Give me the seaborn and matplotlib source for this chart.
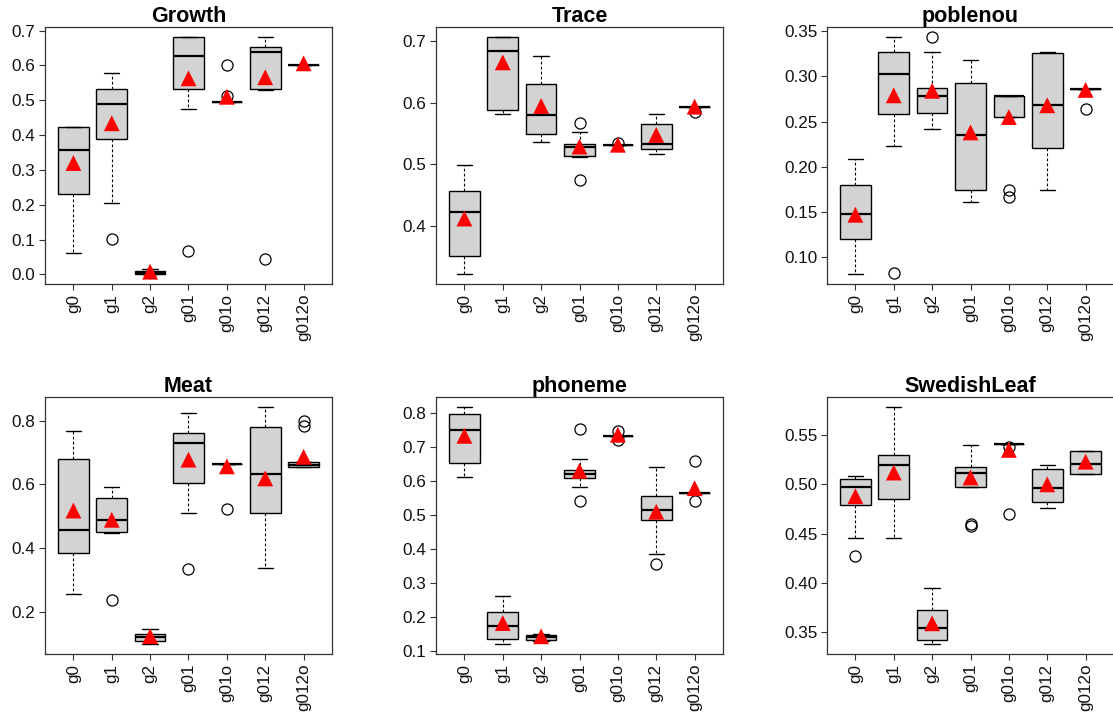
import numpy as np
import pandas as pd
import matplotlib
matplotlib.use("Agg")
import matplotlib.pyplot as plt
import seaborn as sns

groups = ["g0", "g1", "g2", "g01", "g01o", "g012", "g012o"]
titles = ["Growth", "Trace", "poblenou", "Meat", "phoneme", "SwedishLeaf"]

# box stats per group: [whisker low, q1, median, q3, whisker high]
growth_box = [[0.062, 0.231, 0.357, 0.424, 0.424], [0.204, 0.389, 0.489, 0.533, 0.579],
              [0.000, 0.000, 0.005, 0.011, 0.017], [0.476, 0.533, 0.626, 0.681, 0.683],
              [0.494, 0.494, 0.494, 0.494, 0.494], [0.530, 0.533, 0.640, 0.652, 0.683],
              [0.601, 0.601, 0.601, 0.601, 0.601]]
growth_mean = [0.320, 0.434, 0.008, 0.563, 0.510, 0.566, 0.606]
growth_out = [[], [0.103], [], [0.068], [0.601, 0.513], [0.044], []]

trace_box = [[0.321, 0.351, 0.423, 0.457, 0.499], [0.582, 0.588, 0.685, 0.707, 0.708],
             [0.537, 0.550, 0.580, 0.631, 0.677], [0.512, 0.514, 0.529, 0.534, 0.552],
             [0.531, 0.531, 0.531, 0.531, 0.531], [0.517, 0.525, 0.534, 0.565, 0.582],
             [0.593, 0.593, 0.593, 0.593, 0.593]]
trace_mean = [0.412, 0.666, 0.595, 0.529, 0.532, 0.548, 0.594]
trace_out = [[], [], [], [0.567, 0.475], [0.535], [], [0.586]]

poblenou_box = [[0.081, 0.120, 0.148, 0.180, 0.209], [0.223, 0.258, 0.303, 0.327, 0.344],
                [0.242, 0.260, 0.278, 0.287, 0.327], [0.161, 0.174, 0.235, 0.293, 0.3175],
                [0.2555, 0.2555, 0.278, 0.278, 0.278], [0.174, 0.221, 0.268, 0.326, 0.327],
                [0.286, 0.286, 0.286, 0.286, 0.286]]
poblenou_mean = [0.147, 0.279, 0.284, 0.238, 0.255, 0.268, 0.285]
poblenou_out = [[], [0.083], [0.344], [], [0.174, 0.167], [], [0.2636]]

meat_box = [[0.256, 0.386, 0.4575, 0.679, 0.769], [0.447, 0.451, 0.488, 0.558, 0.592],
            [0.097, 0.1086, 0.120, 0.131, 0.146], [0.509, 0.605, 0.729, 0.762, 0.825],
            [0.663, 0.663, 0.663, 0.663, 0.663], [0.336, 0.510, 0.634, 0.782, 0.845],
            [0.655, 0.655, 0.660, 0.670, 0.670]]
meat_mean = [0.518, 0.489, 0.123, 0.678, 0.657, 0.619, 0.687]
meat_out = [[], [0.236], [], [0.3345], [0.522], [], [0.799, 0.785]]

phoneme_box = [[0.6115, 0.652, 0.750, 0.797, 0.818], [0.119, 0.134, 0.172, 0.213, 0.262],
               [0.129, 0.131, 0.141, 0.146, 0.149], [0.583, 0.6076, 0.619, 0.631, 0.6625],
               [0.732, 0.732, 0.732, 0.732, 0.732], [0.385, 0.485, 0.513, 0.5555, 0.640],
               [0.564, 0.564, 0.564, 0.564, 0.564]]
phoneme_mean = [0.732, 0.182, 0.143, 0.629, 0.735, 0.509, 0.578]
phoneme_out = [[], [], [], [0.753, 0.540], [0.747, 0.720], [0.356], [0.659, 0.539]]

swedish_box = [[0.446, 0.479, 0.497, 0.505, 0.5086], [0.446, 0.4856, 0.5195, 0.530, 0.579],
               [0.3375, 0.3419, 0.3547, 0.373, 0.3947], [0.4975, 0.4975, 0.512, 0.518, 0.540],
               [0.541, 0.541, 0.541, 0.541, 0.541], [0.476, 0.482, 0.4958, 0.5158, 0.520],
               [0.511, 0.511, 0.5205, 0.5337, 0.5337]]
swedish_mean = [0.488, 0.512, 0.359, 0.507, 0.535, 0.500, 0.523]
swedish_out = [[0.4276], [], [], [0.4598, 0.458], [0.5375, 0.470], [], []]

ytick_sets = [
    [0.0, 0.1, 0.2, 0.3, 0.4, 0.5, 0.6, 0.7],
    [0.4, 0.5, 0.6, 0.7],
    [0.10, 0.15, 0.20, 0.25, 0.30, 0.35],
    [0.2, 0.4, 0.6, 0.8],
    [0.1, 0.2, 0.3, 0.4, 0.5, 0.6, 0.7, 0.8],
    [0.35, 0.40, 0.45, 0.50, 0.55],
]
ytick_fmt = ["{:.1f}", "{:.1f}", "{:.2f}", "{:.1f}", "{:.1f}", "{:.2f}"]

all_box = [growth_box, trace_box, poblenou_box, meat_box, phoneme_box, swedish_box]
all_mean = [growth_mean, trace_mean, poblenou_mean, meat_mean, phoneme_mean, swedish_mean]
all_out = [growth_out, trace_out, poblenou_out, meat_out, phoneme_out, swedish_out]

sns.set_theme(style="ticks")
plt.rcParams["font.family"] = ["Liberation Sans", "DejaVu Sans"]
plt.rcParams["text.color"] = "black"

fig = plt.figure(figsize=(11.13, 7.15), dpi=100)
W, H = 1113, 715
lefts = [45, 436, 827]
tops = [27, 397]
aw, ah = 287, 257


def draw_panel(ax, box, means, outs, title, ticks, fmt):
    stats = []
    for g, b, o in zip(groups, box, outs):
        stats.append(dict(label=g, whislo=b[0], q1=b[1], med=b[2], q3=b[3],
                          whishi=b[4], fliers=o))
    pos = np.arange(1, len(groups) + 1)
    ax.bxp(stats, positions=pos, widths=0.8, patch_artist=True, showfliers=True,
           boxprops=dict(facecolor="#D3D3D3", edgecolor="black", linewidth=1.0),
           medianprops=dict(color="black", linewidth=1.6, solid_capstyle="butt"),
           whiskerprops=dict(color="black", linewidth=0.8, linestyle=(0, (2.5, 2))),
           capprops=dict(color="black", linewidth=1.0),
           capwidths=0.4,
           flierprops=dict(marker="o", markerfacecolor="none", markeredgecolor="black",
                           markersize=8, markeredgewidth=0.9, linestyle="none"))
    df = pd.DataFrame({"x": pos, "mean": means})
    sns.scatterplot(data=df, x="x", y="mean", marker="^", color="red", s=130,
                    edgecolor="none", zorder=5, ax=ax, legend=False)

    vals = [v for b in box for v in b] + [v for o in outs for v in o]
    lo, hi = min(vals), max(vals)
    pad = (hi - lo) * 0.04
    ax.set_ylim(lo - pad, hi + pad)
    ax.set_xlim(0.26, 7.74)
    ax.set_xticks(pos)
    ax.set_xticklabels(groups, rotation=90)
    ax.set_yticks(ticks)
    ax.set_yticklabels([fmt.format(t) for t in ticks])
    ax.set_xlabel("")
    ax.set_ylabel("")
    ax.set_title(title, fontsize=15.5, fontweight="bold", pad=3, color="black")
    ax.tick_params(axis="both", labelsize=12.3, length=4, width=0.8, pad=3,
                   color="#333333", labelcolor="#111111")
    for s in ax.spines.values():
        s.set_visible(True)
        s.set_linewidth(0.9)
        s.set_color("#333333")


for i in range(6):
    r, c = divmod(i, 3)
    rect = [lefts[c] / W, 1 - (tops[r] + ah) / H, aw / W, ah / H]
    ax = fig.add_axes(rect)
    draw_panel(ax, all_box[i], all_mean[i], all_out[i], titles[i], ytick_sets[i], ytick_fmt[i])

fig.savefig("out.png", dpi=100)
